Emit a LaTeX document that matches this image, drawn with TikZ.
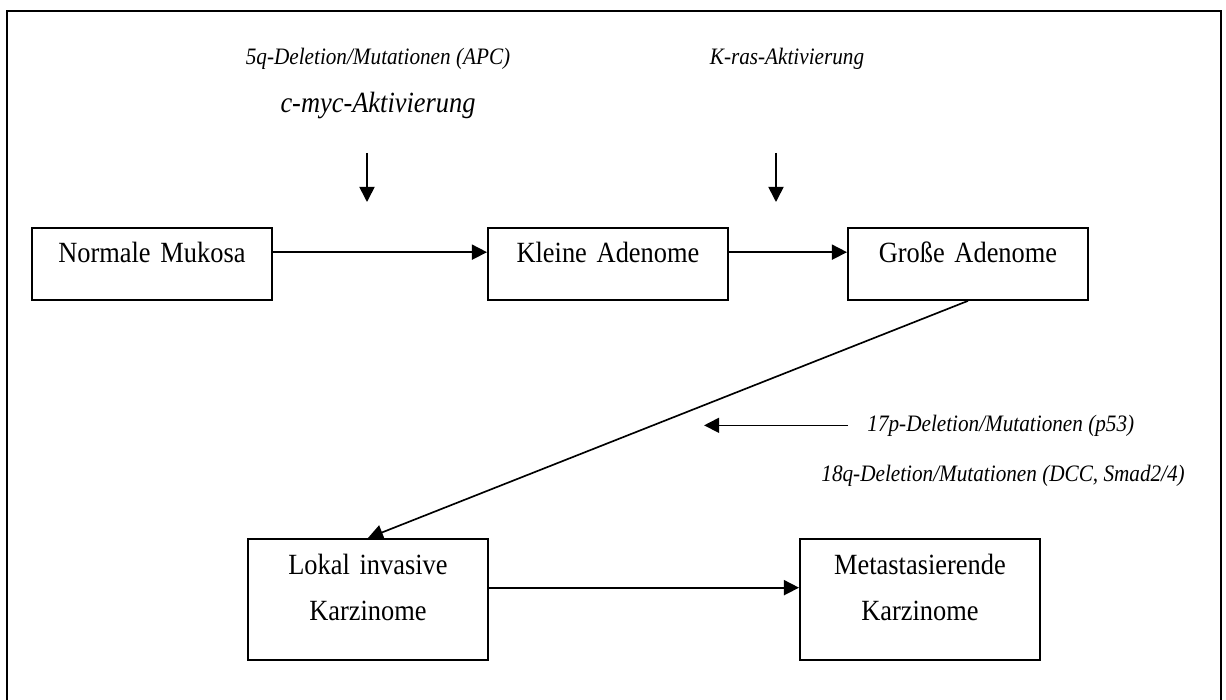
\documentclass[tikz,border=0pt]{standalone}
\usepackage{fontspec}
\setmainfont{Liberation Serif}[FakeStretch=0.9]
\usetikzlibrary{arrows.meta}

\begin{document}
\begin{tikzpicture}[
	x=0.45pt, y=-0.45pt, line join=miter,
	pfeil/.style={-{Triangle[length=6.8pt,width=6.8pt]}, line width=0.75pt},
	kasten/.style={draw, line width=0.85pt, inner sep=0pt, anchor=north west,
		text width=108pt, align=center, font=\fontsize{13.2}{20.7}\selectfont},
	einzeilig/.style={kasten, text height=15.75pt, text depth=16.65pt},
	zweizeilig/.style={kasten, text height=16.2pt, text depth=38.25pt},
	notiz/.style={font=\fontsize{10.6}{12}\selectfont\itshape, inner sep=0pt},
	]
	\useasboundingbox (0,0) rectangle (1226,700);
	
	% 1. RAHMEN
	\draw[line width=0.9pt] (7,720) |- (1221,11) -- (1221,720);
	
	% 2. KAESTEN
	\node[einzeilig] (mukosa) at (31,227) {Normale Mukosa};
	\node[einzeilig] (klein) at (487,227) {Kleine Adenome};
	\node[einzeilig] (gross) at (847,227) {Große Adenome};
	\node[zweizeilig] (lokal) at (247,538) {Lokal invasive\\Karzinome};
	\node[zweizeilig] (meta) at (799,538) {Metastasierende\\Karzinome};
	
	% 3. VERBINDUNGEN
	\draw[pfeil] ([yshift=5.3pt]mukosa.east) -- ([yshift=5.3pt]klein.west);
	\draw[pfeil] ([yshift=5.3pt]klein.east) -- ([yshift=5.3pt]gross.west);
	\draw[pfeil] (gross.south) -- (lokal.north);
	\draw[pfeil] ([yshift=5.3pt]lokal.east) -- ([yshift=5.3pt]meta.west);
	
	% 4. GENETISCHE VERAENDERUNGEN
	\node[notiz, anchor=base] (apc) at (378,65) {5q-Deletion/Mutationen (APC)};
	\node[font=\fontsize{13.2}{15}\selectfont\itshape, inner sep=0pt, anchor=base] (myc) at (378,113) {c-myc-Aktivierung};
	\node[notiz, anchor=base] (kras) at (787,65) {K-ras-Aktivierung};
	\node[notiz, anchor=base west] (p53) at (867,431) {17p-Deletion/Mutationen (p53)};
	\node[notiz, anchor=base west] (dcc) at (821,482) {18q-Deletion/Mutationen (DCC, Smad2/4)};
	
	\coordinate (apc oben) at (367,153);
	\coordinate (apc unten) at (367,202);
	\coordinate (kras oben) at (776,153);
	\coordinate (kras unten) at (776,202);
	\draw[pfeil] (apc oben) -- (apc unten);
	\draw[pfeil] (kras oben) -- (kras unten);
	\draw[pfeil] ([xshift=-8.5pt]p53.west) -- ++(-144,0);
	
\end{tikzpicture}
\end{document}
